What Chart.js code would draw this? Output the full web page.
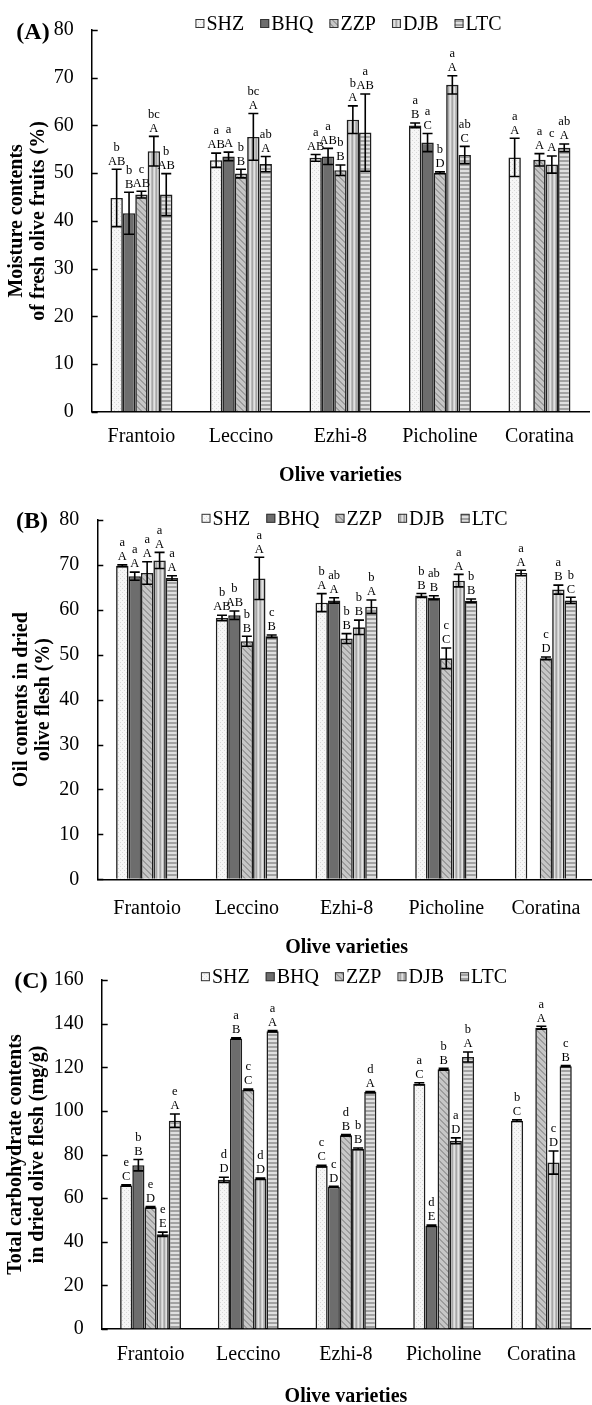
<!DOCTYPE html>
<html><head><meta charset="utf-8">
<script src="https://cdn.jsdelivr.net/npm/chart.js@4.4.0/dist/chart.umd.min.js"></script>
<style>
html,body{margin:0;padding:0;background:#fff;width:592px;height:1405px;overflow:hidden;position:relative}
canvas{position:absolute;left:0}
</style></head><body>
<canvas id="cA" width="592" height="490" style="top:0px;width:592px;height:490px"></canvas>
<canvas id="cB" width="600" height="475" style="top:490px;width:600px;height:475px"></canvas>
<canvas id="cC" width="592" height="470" style="top:950px;width:592px;height:470px"></canvas>
<script>
// ---------- DATA ----------
const categories = ['Frantoio', 'Leccino', 'Ezhi-8', 'Picholine', 'Coratina'];
const seriesNames = ['SHZ', 'BHQ', 'ZZP', 'DJB', 'LTC'];

const yTicksA = [0, 10, 20, 30, 40, 50, 60, 70, 80];
const yTicksB = [0, 10, 20, 30, 40, 50, 60, 70, 80];
const yTicksC = [0, 20, 40, 60, 80, 100, 120, 140, 160];

// (A) Moisture contents of fresh olive fruits (%)
const moistSHZ = [44.8, 52.7, 53.2, 60.0, 53.3];
const moistBHQ = [41.6, 53.5, 53.5, 56.4, null];
const moistZZP = [45.5, 49.9, 50.6, 50.1, 52.8];
const moistDJB = [54.6, 57.6, 61.2, 68.5, 51.8];
const moistLTC = [45.5, 51.9, 58.5, 53.8, 55.3];
const moistSdSHZ = [6.0, 1.5, 0.7, 0.5, 4.0];
const moistSdBHQ = [4.4, 0.9, 1.7, 1.9, null];
const moistSdZZP = [0.7, 0.9, 1.1, 0.2, 1.3];
const moistSdDJB = [3.1, 4.9, 2.9, 1.9, 1.8];
const moistSdLTC = [4.4, 1.6, 8.1, 1.8, 0.8];
const moistLowSHZ = ['b', 'a', 'a', 'a', 'a'];
const moistLowBHQ = ['b', 'a', 'a', 'a', ''];
const moistLowZZP = ['c', 'b', 'b', 'b', 'a'];
const moistLowDJB = ['bc', 'bc', 'b', 'a', 'c'];
const moistLowLTC = ['b', 'ab', 'a', 'ab', 'ab'];
const moistUpSHZ = ['AB', 'AB', 'AB', 'B', 'A'];
const moistUpBHQ = ['B', 'A', 'AB', 'C', ''];
const moistUpZZP = ['AB', 'B', 'B', 'D', 'A'];
const moistUpDJB = ['A', 'A', 'A', 'A', 'A'];
const moistUpLTC = ['AB', 'A', 'AB', 'C', 'A'];

// (B) Oil contents in dried olive flesh (%)
const oilSHZ = [69.8, 58.2, 61.6, 63.2, 68.2];
const oilBHQ = [67.5, 58.8, 62.1, 62.7, null];
const oilZZP = [68.2, 53.0, 53.6, 49.2, 49.2];
const oilDJB = [71.0, 67.0, 56.1, 66.5, 64.5];
const oilLTC = [67.1, 54.1, 60.7, 62.0, 62.1];
const oilSdSHZ = [0.2, 0.6, 2.0, 0.45, 0.6];
const oilSdBHQ = [0.9, 0.95, 0.6, 0.45, null];
const oilSdZZP = [2.5, 1.1, 1.1, 2.3, 0.3];
const oilSdDJB = [1.8, 4.7, 1.6, 1.4, 1.0];
const oilSdLTC = [0.5, 0.3, 1.5, 0.4, 0.7];
const oilLowSHZ = ['a', 'b', 'b', 'b', 'a'];
const oilLowBHQ = ['a', 'b', 'ab', 'ab', ''];
const oilLowZZP = ['a', 'b', 'b', 'c', 'c'];
const oilLowDJB = ['a', 'a', 'b', 'a', 'a'];
const oilLowLTC = ['a', 'c', 'b', 'b', 'b'];
const oilUpSHZ = ['A', 'AB', 'A', 'B', 'A'];
const oilUpBHQ = ['A', 'AB', 'A', 'B', ''];
const oilUpZZP = ['A', 'B', 'B', 'C', 'D'];
const oilUpDJB = ['A', 'A', 'B', 'A', 'B'];
const oilUpLTC = ['A', 'B', 'A', 'B', 'C'];

// (C) Total carbohydrate contents in dried olive flesh (mg/g)
const carbSHZ = [65.8, 68.4, 74.7, 112.4, 95.5];
const carbBHQ = [75.1, 133.2, 65.2, 47.3, null];
const carbZZP = [55.8, 109.7, 88.8, 119.1, 138.1];
const carbDJB = [43.4, 68.9, 82.6, 86.3, 76.3];
const carbLTC = [95.5, 136.5, 108.6, 124.7, 120.5];
const carbSdSHZ = [0.3, 1.2, 0.4, 0.5, 0.4];
const carbSdBHQ = [2.6, 0.3, 0.2, 0.3, null];
const carbSdZZP = [0.3, 0.3, 0.3, 0.4, 0.7];
const carbSdDJB = [1.0, 0.3, 0.4, 1.3, 5.3];
const carbSdLTC = [3.1, 0.3, 0.3, 2.3, 0.3];
const carbLowSHZ = ['e', 'd', 'c', 'a', 'b'];
const carbLowBHQ = ['b', 'a', 'c', 'd', ''];
const carbLowZZP = ['e', 'c', 'd', 'b', 'a'];
const carbLowDJB = ['e', 'd', 'b', 'a', 'c'];
const carbLowLTC = ['e', 'a', 'd', 'b', 'c'];
const carbUpSHZ = ['C', 'D', 'C', 'C', 'C'];
const carbUpBHQ = ['B', 'B', 'D', 'E', ''];
const carbUpZZP = ['D', 'C', 'B', 'B', 'A'];
const carbUpDJB = ['E', 'D', 'B', 'D', 'D'];
const carbUpLTC = ['A', 'A', 'A', 'A', 'B'];

// ---------- STYLE ----------
const F = '"Liberation Serif", "Times New Roman", Times, serif';

function tile(w, h, draw) {
  const c = document.createElement('canvas');
  c.width = w; c.height = h;
  const g = c.getContext('2d');
  draw(g, w, h);
  return g.createPattern(c, 'repeat');
}
const fillSHZ = tile(4, 4, (g) => {
  g.fillStyle = '#f6f6f6'; g.fillRect(0, 0, 4, 4);
  g.fillStyle = '#d8d8d8'; g.fillRect(0, 0, 1, 1); g.fillRect(2, 2, 1, 1);
});
const fillBHQ = '#6d6d6d';
const fillZZP = tile(6, 6, (g) => {
  g.fillStyle = '#c6c6c6'; g.fillRect(0, 0, 6, 6);
  g.fillStyle = '#9c9c9c';
  for (let i = 0; i < 6; i++) { g.fillRect(i, i, 1, 1); g.fillRect((i + 1) % 6, i, 1, 1); }
});
const fillDJB = tile(4, 1, (g) => {
  g.fillStyle = '#a6a6a6'; g.fillRect(0, 0, 1, 1);
  g.fillStyle = '#cfcfcf'; g.fillRect(1, 0, 1, 1);
  g.fillStyle = '#e2e2e2'; g.fillRect(2, 0, 1, 1);
  g.fillStyle = '#bababa'; g.fillRect(3, 0, 1, 1);
});
const fillLTC = tile(1, 4, (g) => {
  g.fillStyle = '#a2a2a2'; g.fillRect(0, 0, 1, 2);
  g.fillStyle = '#e0e0e0'; g.fillRect(0, 2, 1, 2);
});
const fills = [fillSHZ, fillBHQ, fillZZP, fillDJB, fillLTC];

const panelPlugin = {
  id: 'panel',
  afterDraw(chart, args, o) {
    const ctx = chart.ctx, ca = chart.chartArea, y = chart.scales.y;
    ctx.save();
    // inward y ticks
    ctx.strokeStyle = '#000'; ctx.lineWidth = 1.5;
    y.ticks.forEach(t => {
      const py = Math.round(y.getPixelForValue(t.value)) + 0.5;
      ctx.beginPath(); ctx.moveTo(ca.left, py); ctx.lineTo(ca.left + 6, py); ctx.stroke();
    });
    // error bars and letters
    chart.data.datasets.forEach((ds, di) => {
      const meta = chart.getDatasetMeta(di);
      meta.data.forEach((bar, i) => {
        const v = ds.data[i];
        if (v == null) return;
        const sd = o.sd[di][i] || 0;
        const pt = y.getPixelForValue(v + sd), pb = y.getPixelForValue(v - sd);
        ctx.strokeStyle = '#000'; ctx.lineWidth = 1.6;
        ctx.beginPath();
        ctx.moveTo(bar.x, pt); ctx.lineTo(bar.x, pb);
        ctx.moveTo(bar.x - 5, pt); ctx.lineTo(bar.x + 5, pt);
        ctx.moveTo(bar.x - 5, pb); ctx.lineTo(bar.x + 5, pb);
        ctx.stroke();
        ctx.fillStyle = '#000';
        ctx.font = '12.5px ' + F; ctx.textAlign = 'center'; ctx.textBaseline = 'middle';
        ctx.fillText(o.up[di][i], bar.x, pt - 8);
        ctx.fillText(o.low[di][i], bar.x, pt - 22);
      });
    });
    // legend
    ctx.font = '20px ' + F;
    const box = 9, gapT = 2, gapI = 16;
    const widths = chart.data.datasets.map(d => box + gapT + ctx.measureText(d.label).width);
    const total = widths.reduce((a, b) => a + b, 0) + gapI * (widths.length - 1);
    let lx = (ca.left + ca.right) / 2 - total / 2 + 8;
    const ly = o.legendY;
    ctx.textAlign = 'left'; ctx.textBaseline = 'middle';
    chart.data.datasets.forEach((d, i) => {
      ctx.fillStyle = d.backgroundColor;
      ctx.fillRect(lx, ly - box / 2, box, box);
      ctx.strokeStyle = '#333'; ctx.lineWidth = 1;
      ctx.strokeRect(lx + 0.5, ly - box / 2 + 0.5, box - 1, box - 1);
      ctx.fillStyle = '#000';
      ctx.fillText(d.label, lx + box + gapT, ly + 1);
      lx += widths[i] + gapI;
    });
    // panel label
    ctx.font = 'bold 24px ' + F; ctx.textAlign = 'center'; ctx.textBaseline = 'middle';
    ctx.fillText(o.label, o.labelX, o.labelY);
    ctx.restore();
  }
};

function makeChart(id, cfg) {
  const datasets = seriesNames.map((name, i) => ({
    label: name,
    data: cfg.values[i],
    backgroundColor: fills[i],
    borderColor: '#1e1e1e',
    borderWidth: 1.6
  }));
  return new Chart(document.getElementById(id), {
    type: 'bar',
    data: { labels: categories, datasets },
    plugins: [panelPlugin],
    options: {
      responsive: false, animation: false, devicePixelRatio: 1,
      layout: { padding: { top: cfg.top, right: cfg.padRight, left: 0, bottom: 0 } },
      datasets: { bar: { categoryPercentage: 0.623, barPercentage: 1 } },
      plugins: {
        legend: { display: false }, tooltip: { enabled: false },
        panel: { sd: cfg.sd, up: cfg.up, low: cfg.low, legendY: cfg.legendY, label: cfg.label, labelX: cfg.labelX, labelY: cfg.labelY }
      },
      scales: {
        x: {
          z: 1,
          grid: { display: true, drawOnChartArea: false, drawTicks: false },
          border: { display: true, color: '#000', width: 1.5 },
          ticks: { font: { family: F, size: 20 }, color: '#000', padding: cfg.xPad, maxRotation: 0, autoSkip: false },
          title: { display: true, text: 'Olive varieties', color: '#000', font: { family: F, size: 20, weight: 'bold' }, padding: { top: 0, bottom: cfg.xTitlePad } },
          afterFit: s => { s.height = cfg.xh; }
        },
        y: {
          z: 1,
          min: 0, max: cfg.ticks[cfg.ticks.length - 1],
          afterBuildTicks: s => { s.ticks = cfg.ticks.map(v => ({ value: v })); },
          grid: { display: true, drawOnChartArea: false, drawTicks: false },
          border: { display: true, color: '#000', width: 1.5 },
          ticks: { font: { family: F, size: 20 }, color: '#000', padding: 18 },
          title: { display: true, text: cfg.yTitle, color: '#000', font: { family: F, size: 20, weight: 'bold', lineHeight: 1.1 }, padding: { top: cfg.yTitlePad, bottom: 0 } },
          afterFit: s => { s.width = cfg.left; }
        }
      }
    }
  });
}

makeChart('cA', {
  values: [moistSHZ, moistBHQ, moistZZP, moistDJB, moistLTC],
  sd: [moistSdSHZ, moistSdBHQ, moistSdZZP, moistSdDJB, moistSdLTC],
  low: [moistLowSHZ, moistLowBHQ, moistLowZZP, moistLowDJB, moistLowLTC],
  up: [moistUpSHZ, moistUpBHQ, moistUpZZP, moistUpDJB, moistUpLTC],
  ticks: yTicksA, yTitle: ['Moisture contents', 'of fresh olive fruits (%)'],
  top: 21.7, padRight: 2.8, left: 91.7, xh: 78.3, xPad: 13, xTitlePad: 2.5, yTitlePad: 6,
  legendY: 23.5, label: '(A)', labelX: 33, labelY: 33
});
makeChart('cB', {
  values: [oilSHZ, oilBHQ, oilZZP, oilDJB, oilLTC],
  sd: [oilSdSHZ, oilSdBHQ, oilSdZZP, oilSdDJB, oilSdLTC],
  low: [oilLowSHZ, oilLowBHQ, oilLowZZP, oilLowDJB, oilLowLTC],
  up: [oilUpSHZ, oilUpBHQ, oilUpZZP, oilUpDJB, oilUpLTC],
  ticks: yTicksB, yTitle: ['Oil contents in dried', 'olive flesh (%)'],
  top: 24.8, padRight: 4.2, left: 97.3, xh: 85.7, xPad: 17, xTitlePad: 5, yTitlePad: 11,
  legendY: 28.3, label: '(B)', labelX: 32, labelY: 31.5
});
makeChart('cC', {
  values: [carbSHZ, carbBHQ, carbZZP, carbDJB, carbLTC],
  sd: [carbSdSHZ, carbSdBHQ, carbSdZZP, carbSdDJB, carbSdLTC],
  low: [carbLowSHZ, carbLowBHQ, carbLowZZP, carbLowDJB, carbLowLTC],
  up: [carbUpSHZ, carbUpBHQ, carbUpZZP, carbUpDJB, carbUpLTC],
  ticks: yTicksC, yTitle: ['Total carbohydrate contents', 'in dried olive flesh (mg/g)'],
  top: 21.7, padRight: 1.8, left: 101.7, xh: 91, xPad: 14, xTitlePad: 11.3, yTitlePad: 5,
  legendY: 26.7, label: '(C)', labelX: 31, labelY: 32
});
</script>
</body></html>
